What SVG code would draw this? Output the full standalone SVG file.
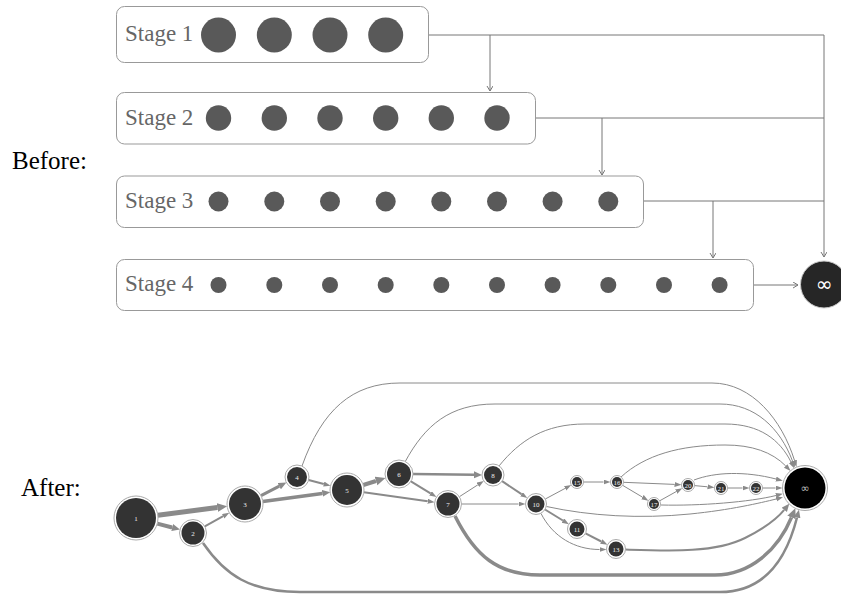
<svg xmlns="http://www.w3.org/2000/svg" width="841" height="595" viewBox="0 0 841 595">
<style>
.bg{fill:#fff}
.stage rect{fill:#fff;stroke:#999;stroke-width:1}
.stage circle{fill:#595959}
.stxt{font-family:"Liberation Serif","Times New Roman",serif;font-size:23px;fill:#666}
.lbl{font-family:"Liberation Serif","Times New Roman",serif;font-size:25px;fill:#000}
.tc{fill:none;stroke:#777;stroke-width:1}
.e{fill:none;stroke:#8a8a8a}
.ring{fill:#fff;stroke:#aaa;stroke-width:1}
.core{fill:#333}
.nt{font-family:"Liberation Serif","Times New Roman",serif;font-size:7px;fill:#eee;text-anchor:middle}
</style>
<defs>
<marker id="chev" markerUnits="userSpaceOnUse" markerWidth="8" markerHeight="8" refX="5" refY="3" orient="auto">
<path d="M0,0 L5,3 L0,6" fill="none" stroke="#777" stroke-width="1"/>
</marker>
<marker id="as" markerUnits="userSpaceOnUse" markerWidth="8" markerHeight="6" refX="0" refY="2.5" orient="auto">
<path d="M0,0 L7,2.5 L0,5 z" fill="#8a8a8a"/>
</marker>
<marker id="am" markerUnits="userSpaceOnUse" markerWidth="9" markerHeight="8" refX="0" refY="3.5" orient="auto">
<path d="M0,0 L8,3.5 L0,7 z" fill="#8a8a8a"/>
</marker>
<marker id="al" markerUnits="userSpaceOnUse" markerWidth="11" markerHeight="10" refX="0" refY="4.5" orient="auto">
<path d="M0,0 L10,4.5 L0,9 z" fill="#8a8a8a"/>
</marker>
</defs>
<rect class="bg" x="0" y="0" width="841" height="595"/>

<text class="lbl" x="12" y="169">Before:</text>
<text class="lbl" x="21" y="496">After:</text>

<g id="top-connectors">
<path class="tc" d="M428,35 H824 V257" marker-end="url(#chev)"/>
<path class="tc" d="M490,35 V91" marker-end="url(#chev)"/>
<path class="tc" d="M535,118 H824"/>
<path class="tc" d="M602,118 V175" marker-end="url(#chev)"/>
<path class="tc" d="M644,201 H824"/>
<path class="tc" d="M713,201 V258" marker-end="url(#chev)"/>
<path class="tc" d="M753,285 H798" marker-end="url(#chev)"/>
</g>

<g id="stage1" class="stage">
<rect x="116.5" y="6.5" width="312" height="56" rx="8"/>
<text class="stxt" x="125" y="41">Stage 1</text>
<circle cx="218.5" cy="35" r="17.5"/><circle cx="274.3" cy="35" r="17.5"/><circle cx="330" cy="35" r="17.5"/><circle cx="385.7" cy="35" r="17.5"/>
</g>
<g id="stage2" class="stage">
<rect x="116.5" y="92.5" width="419" height="51.5" rx="8"/>
<text class="stxt" x="125" y="125">Stage 2</text>
<circle cx="218.5" cy="118" r="12.7"/><circle cx="274.3" cy="118" r="12.7"/><circle cx="330" cy="118" r="12.7"/><circle cx="385.7" cy="118" r="12.7"/><circle cx="441.3" cy="118" r="12.7"/><circle cx="497" cy="118" r="12.7"/>
</g>
<g id="stage3" class="stage">
<rect x="116.5" y="176" width="527" height="51.5" rx="8"/>
<text class="stxt" x="125" y="208">Stage 3</text>
<circle cx="218.5" cy="201.5" r="10"/><circle cx="274.3" cy="201.5" r="10"/><circle cx="330" cy="201.5" r="10"/><circle cx="385.7" cy="201.5" r="10"/><circle cx="441.3" cy="201.5" r="10"/><circle cx="497" cy="201.5" r="10"/><circle cx="552.6" cy="201.5" r="10"/><circle cx="608.3" cy="201.5" r="10"/>
</g>
<g id="stage4" class="stage">
<rect x="116.5" y="259.5" width="637" height="51" rx="8"/>
<text class="stxt" x="125" y="291">Stage 4</text>
<circle cx="218.5" cy="285" r="8"/><circle cx="274.3" cy="285" r="8"/><circle cx="330" cy="285" r="8"/><circle cx="385.7" cy="285" r="8"/><circle cx="441.3" cy="285" r="8"/><circle cx="497" cy="285" r="8"/><circle cx="552.6" cy="285" r="8"/><circle cx="608.3" cy="285" r="8"/><circle cx="664" cy="285" r="8"/><circle cx="719.6" cy="285" r="8"/>
</g>
<g id="inf-top">
<circle cx="824" cy="284.5" r="23.5" fill="#262626" stroke="#ccc" stroke-width="1"/>
<text x="824" y="291" font-family="'DejaVu Sans',sans-serif" font-size="20" fill="#fff" text-anchor="middle">∞</text>
</g>

<g id="edges">
<path class="e" stroke-width="5" d="M157.8,515.2 L217.2,507.6" marker-end="url(#al)"/>
<path class="e" stroke-width="4" d="M157.3,523.6 L172.2,527.5" marker-end="url(#am)"/>
<path class="e" stroke-width="2" d="M204.8,526.4 L223.2,516.2" marker-end="url(#as)"/>
<path class="e" stroke-width="3" d="M261,495.7 L279.3,486.2" marker-end="url(#am)"/>
<path class="e" stroke-width="3.5" d="M262.8,501.6 L322.3,493.4" marker-end="url(#am)"/>
<path class="e" stroke-width="2" d="M308.6,480 L323.8,484" marker-end="url(#as)"/>
<path class="e" stroke-width="4" d="M363.3,485 L376,481" marker-end="url(#al)"/>
<path class="e" stroke-width="2" d="M363.8,492.3 L427.7,501.2" marker-end="url(#as)"/>
<path class="e" stroke-width="2.5" d="M413,474.1 L474,474.8" marker-end="url(#am)"/>
<path class="e" stroke-width="2" d="M410.9,481.3 L430.5,493.3" marker-end="url(#as)"/>
<path class="e" stroke-width="1" d="M459.4,496.7 L477.9,484.8" marker-end="url(#as)"/>
<path class="e" stroke-width="1" d="M461.5,504 L518.5,504" marker-end="url(#as)"/>
<path class="e" stroke-width="2" d="M502.1,481.1 L521.5,494.2" marker-end="url(#as)"/>
<path class="e" stroke-width="1" d="M545.3,499 L565.1,488.4" marker-end="url(#as)"/>
<path class="e" stroke-width="2" d="M545,509.5 L562.9,520.5" marker-end="url(#as)"/>
<path class="e" stroke-width="2" d="M585.5,533.3 L601.3,541.5" marker-end="url(#as)"/>
<path class="e" stroke-width="1" d="M583.5,482 L603.5,482" marker-end="url(#as)"/>
<path class="e" stroke-width="1" d="M623.5,482.3 L674.5,484.4" marker-end="url(#as)"/>
<path class="e" stroke-width="1" d="M622.6,485.3 L642.4,497.1" marker-end="url(#as)"/>
<path class="e" stroke-width="1" d="M659.7,500.8 L676.2,491.6" marker-end="url(#as)"/>
<path class="e" stroke-width="1" d="M694.5,485.6 L707.5,486.8" marker-end="url(#as)"/>
<path class="e" stroke-width="1" d="M727.5,488 L742.5,488" marker-end="url(#as)"/>
<path class="e" stroke-width="1" d="M762.5,488 L775.5,488" marker-end="url(#as)"/>
<path class="e" stroke-width="1" d="M541,513.5 C553,537 575,549.5 599.5,549.5" marker-end="url(#as)"/>
<path class="e" stroke-width="1" d="M302,466 C322,410 352,383 400,383 L712,383 C752,383 782,420 794.5,460.4" marker-end="url(#as)"/>
<path class="e" stroke-width="1" d="M405,462 C425,425 450,404 495,404 L720,404 C755,404 780,428 792.5,461" marker-end="url(#as)"/>
<path class="e" stroke-width="1" d="M499,466 C520,440 545,424 585,424 L725,424 C760,424 780,440 791,462" marker-end="url(#as)"/>
<path class="e" stroke-width="1" d="M621,477 C645,455 680,445 725,445 C752,445 772,452 785.7,465.9" marker-end="url(#as)"/>
<path class="e" stroke-width="1" d="M694,480 C715,472 745,471 776,479" marker-end="url(#as)"/>
<path class="e" stroke-width="1" d="M661,505 C700,506 750,502 776,495.5" marker-end="url(#as)"/>
<path class="e" stroke-width="1" d="M546.5,506.5 C590,516 640,519 690,514 C730,510 760,503 776.2,499" marker-end="url(#as)"/>
<path class="e" stroke-width="2" d="M625.5,549.5 C670,551 715,553 745,538 C765,528 776,520 784.2,509.9" marker-end="url(#am)"/>
<path class="e" stroke-width="3.5" d="M455,516 C475,556 498,575 540,575 L715,575 C750,575 778,550 791.5,517.4" marker-end="url(#al)"/>
<path class="e" stroke-width="2.5" d="M203,543 C225,575 250,592 300,592 L720,592 C760,592 785,565 797,517.5" marker-end="url(#am)"/>
</g>

<g id="n1"><circle class="ring" cx="136" cy="518" r="22"/><circle class="core" cx="136" cy="518" r="20"/><text class="nt" x="136" y="520.5">1</text></g>
<g id="n2"><circle class="ring" cx="193" cy="533" r="13.5"/><circle class="core" cx="193" cy="533" r="11.5"/><text class="nt" x="193" y="535.5">2</text></g>
<g id="n3"><circle class="ring" cx="245" cy="504" r="18"/><circle class="core" cx="245" cy="504" r="16"/><text class="nt" x="245" y="506.5">3</text></g>
<g id="n4"><circle class="ring" cx="297" cy="477" r="12"/><circle class="core" cx="297" cy="477" r="10"/><text class="nt" x="297" y="479.5">4</text></g>
<g id="n5"><circle class="ring" cx="347" cy="490" r="17"/><circle class="core" cx="347" cy="490" r="15"/><text class="nt" x="347" y="492.5">5</text></g>
<g id="n6"><circle class="ring" cx="399" cy="474" r="14"/><circle class="core" cx="399" cy="474" r="12"/><text class="nt" x="399" y="476.5">6</text></g>
<g id="n7"><circle class="ring" cx="448" cy="504" r="13.5"/><circle class="core" cx="448" cy="504" r="11.5"/><text class="nt" x="448" y="506.5">7</text></g>
<g id="n8"><circle class="ring" cx="493" cy="475" r="11"/><circle class="core" cx="493" cy="475" r="9"/><text class="nt" x="493" y="477.5">8</text></g>
<g id="n10"><circle class="ring" cx="536" cy="504" r="10.5"/><circle class="core" cx="536" cy="504" r="8.5"/><text class="nt" x="536" y="506.5">10</text></g>
<g id="n11"><circle class="ring" cx="577" cy="529" r="9.5"/><circle class="core" cx="577" cy="529" r="7.5"/><text class="nt" x="577" y="531.5">11</text></g>
<g id="n13"><circle class="ring" cx="616" cy="549" r="9.5"/><circle class="core" cx="616" cy="549" r="7.5"/><text class="nt" x="616" y="551.5">13</text></g>
<g id="n15"><circle class="ring" cx="577" cy="482" r="6.5"/><circle class="core" cx="577" cy="482" r="5"/><text class="nt" x="577" y="484.5">15</text></g>
<g id="n16"><circle class="ring" cx="617" cy="482" r="6.5"/><circle class="core" cx="617" cy="482" r="5"/><text class="nt" x="617" y="484.5">16</text></g>
<g id="n17"><circle class="ring" cx="654" cy="504" r="6.5"/><circle class="core" cx="654" cy="504" r="5"/><text class="nt" x="654" y="506.5">17</text></g>
<g id="n20"><circle class="ring" cx="688" cy="485" r="6.5"/><circle class="core" cx="688" cy="485" r="5"/><text class="nt" x="688" y="487.5">20</text></g>
<g id="n21"><circle class="ring" cx="721" cy="488" r="6.5"/><circle class="core" cx="721" cy="488" r="5"/><text class="nt" x="721" y="490.5">21</text></g>
<g id="n22"><circle class="ring" cx="756" cy="488" r="6.5"/><circle class="core" cx="756" cy="488" r="5"/><text class="nt" x="756" y="490.5">22</text></g>
<g id="ninf"><circle class="ring" cx="805" cy="488" r="22.5"/><circle cx="805" cy="488" r="20.5" fill="#000"/><text x="805" y="491.5" font-family="'DejaVu Sans',sans-serif" font-size="11" fill="#bbb" text-anchor="middle">∞</text></g>
</svg>
